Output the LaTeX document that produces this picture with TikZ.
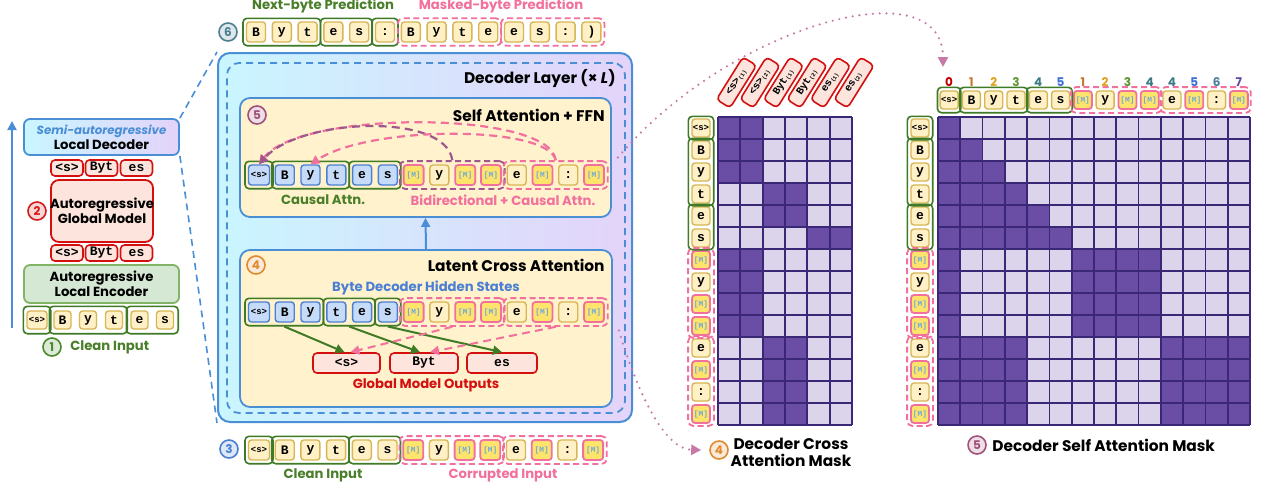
\documentclass[tikz,border=0pt]{standalone}
\usepackage{fontspec}
\usetikzlibrary{arrows.meta,fit,calc}
\newfontfamily\popp{Poppins}
\newfontfamily\monof{Liberation Mono}

\definecolor{blueB}{HTML}{4A8FD6}
\definecolor{cyanL}{HTML}{C9F6FF}
\definecolor{lavL}{HTML}{E4D3FA}
\definecolor{yelL}{HTML}{FFF2CC}
\definecolor{tanB}{HTML}{D6B656}
\definecolor{tanF}{HTML}{FFF0C6}
\definecolor{pinkB}{HTML}{F2709D}
\definecolor{yelM}{HTML}{FFE46B}
\definecolor{mtxt}{HTML}{6FA8DC}
\definecolor{tokBF}{HTML}{C6DBF8}
\definecolor{tokBB}{HTML}{4A7FD4}
\definecolor{redB}{HTML}{D40F0F}
\definecolor{redF}{HTML}{FDE4DC}
\definecolor{grnB}{HTML}{3F7A25}
\definecolor{grnT}{HTML}{4A7F2A}
\definecolor{encF}{HTML}{D5E8D4}
\definecolor{encB}{HTML}{82B366}
\definecolor{purD}{HTML}{A0578C}
\definecolor{mDark}{HTML}{6A4EA6}
\definecolor{mLight}{HTML}{DCD4EA}
\definecolor{mLine}{HTML}{3A2775}
\definecolor{dotC}{HTML}{C77AA8}
\definecolor{c1}{HTML}{4A8A2A}
\definecolor{c2}{HTML}{D41A1A}
\definecolor{c3}{HTML}{4A80D0}
\definecolor{c4}{HTML}{E08A30}
\definecolor{c5}{HTML}{A0507A}
\definecolor{c6}{HTML}{4A8090}
\definecolor{n0}{HTML}{C00000}
\definecolor{n1}{HTML}{C8782C}
\definecolor{n2}{HTML}{E0A21E}
\definecolor{n3}{HTML}{5E9632}
\definecolor{n4}{HTML}{3A7A86}
\definecolor{n5}{HTML}{3A6FD6}
\definecolor{n6}{HTML}{4A7F9A}
\definecolor{n7}{HTML}{6048A0}

\newcommand\ttlf{\popp\bfseries\fontsize{7.7}{8.6}\selectfont}
\newcommand\lblf{\popp\bfseries\fontsize{6.6}{7.4}\selectfont}
\newcommand\numf{\popp\bfseries\fontsize{6}{6}\selectfont}
\newcommand\tokf{\monof\bfseries\fontsize{6.5}{6.5}\selectfont}
\newcommand\sS{{\monof\bfseries\fontsize{4.5}{4.5}\selectfont<s>}}
\newcommand\mM{{\monof\fontsize{3.9}{3.9}\selectfont\color{mtxt}[M]}}
\newcommand\hl[2]{{\monof\bfseries\fontsize{5.2}{5.2}\selectfont #1}{\monof\fontsize{2.8}{3}\selectfont\raisebox{-0.6pt}{#2}}}

% a horizontal / vertical row of token nodes named <prefix><index>
\newcommand\tokrow[5]{%
  \foreach \txt/\sty [count=\i from 0] in {#5}{%
    \edef\tmp{\noexpand\node[\sty] (#1\i) at ({#2+#3*\i},#4)}%
    \tmp{\txt};}}
\newcommand\tokcol[5]{%
  \foreach \txt/\sty [count=\i from 0] in {#5}{%
    \edef\tmp{\noexpand\node[\sty] (#1\i) at (#2,{#3+#4*\i})}%
    \tmp{\txt};}}

\tikzset{
  tk/.style={draw=tanB, fill=tanF, line width=0.7pt, rounded corners=1.5pt,
    minimum width=9.5pt, minimum height=10pt, inner sep=0pt, font=\tokf},
  tks/.style={tk, minimum width=10.5pt},
  tkm/.style={tk, draw=pinkB, fill=yelM, line width=0.9pt, minimum width=10pt},
  tkb/.style={tk, draw=tokBB, fill=tokBF},
  tkbs/.style={tkb, minimum width=10.5pt},
  tq/.style={tk, minimum width=9pt, minimum height=9pt},
  tqm/.style={tkm, minimum width=9pt, minimum height=9pt},
  rt/.style={draw=redB, fill=redF, line width=0.8pt, rounded corners=2pt,
    inner sep=0pt, font=\tokf},
  grp/.style={draw=grnB, line width=0.8pt, rounded corners=2pt,
    inner xsep=1.4pt, inner ysep=1.5pt},
  dgrp/.style={draw=pinkB, line width=0.9pt, dash pattern=on 3pt off 1.8pt,
    rounded corners=2.5pt, inner xsep=1.4pt, inner ysep=1.5pt},
  num/.style={circle, draw=#1, fill=#1!18, text=#1, line width=0.8pt,
    minimum size=9pt, inner sep=0pt, font=\numf},
  ttl/.style={font=\ttlf, inner sep=0pt},
  lbl/.style={font=\lblf, inner sep=0pt},
  inbox/.style={draw=blueB, fill=yelL, line width=0.9pt, rounded corners=5pt},
  tip/.style={-{Triangle[length=4.5pt,width=4.5pt]}},
  arc/.style={tip, line width=1.1pt, dash pattern=on 4pt off 2.6pt},
  mgrid/.style={mLine, line width=0.9pt},
  dotline/.style={dotC, line width=1.2pt, line cap=round, dash pattern=on 0pt off 3.4pt,
    -{Triangle[length=5pt,width=5pt,line cap=butt]}},
  bdash/.style={blueB, line width=0.8pt, dash pattern=on 3.5pt off 2.5pt},
  hdr/.style={rt, rotate=58, minimum width=25pt, minimum height=8pt},
}

\begin{document}
\begin{tikzpicture}[x=0.5pt,y=-0.5pt]
\useasboundingbox[fill=white] (0,0) rectangle (1261,488);

%------------------------------------------------ left: overall model
\coordinate (upS) at (12,328);
\coordinate (upE) at (12,121);
\draw[blueB, line width=1pt, tip] (upS) -- (upE);

\node[draw=blueB, line width=0.9pt, rounded corners=3pt, left color=cyanL, right color=lavL,
  minimum width=77.5pt, minimum height=18pt] (ld) at (101.5,137) {};
\node[lbl, align=center] at (ld) {{\color{blueB}\itshape\fontsize{5.9}{7.4}\selectfont Semi-autoregressive}\\Local Decoder};

\node[rt, minimum width=16pt, minimum height=8pt] (lr0) at (67,168) {<s>};
\node[rt, minimum width=16pt, minimum height=8pt] (lr1) at (101.5,168) {Byt};
\node[rt, minimum width=16pt, minimum height=8pt] (lr2) at (136.5,168) {es};

\node[draw=redB, fill=redF, line width=0.9pt, rounded corners=4pt,
  minimum width=51pt, minimum height=31pt] (gm) at (102,211) {};
\node[lbl, align=center] at (gm) {Autoregressive\\Global Model};
\node[num=c2] (n2) at (37,211) {2};

\node[rt, minimum width=16pt, minimum height=8pt] (lq0) at (67,253) {<s>};
\node[rt, minimum width=16pt, minimum height=8pt] (lq1) at (101.5,253) {Byt};
\node[rt, minimum width=16pt, minimum height=8pt] (lq2) at (136.5,253) {es};

\node[draw=encB, fill=encF, line width=0.9pt, rounded corners=3pt,
  minimum width=77.5pt, minimum height=19pt] (le) at (101.5,284) {};
\node[lbl, align=center] at (le) {Autoregressive\\Local Encoder};

\node[tk, minimum width=10pt, minimum height=9pt] (li0) at (37,320) {\sS};
\node[tk, minimum width=8.5pt, minimum height=9pt] (li1) at (62.5,320) {B};
\node[tk, minimum width=8.5pt, minimum height=9pt] (li2) at (88,320) {y};
\node[tk, minimum width=8.5pt, minimum height=9pt] (li3) at (114,320) {t};
\node[tk, minimum width=8.5pt, minimum height=9pt] (li4) at (139.5,320) {e};
\node[tk, minimum width=8.5pt, minimum height=9pt] (li5) at (165,320) {s};
\node[grp, inner xsep=1.5pt, inner ysep=2pt, fit=(li0)] (lg1) {};
\node[grp, inner xsep=2pt, inner ysep=2pt, fit=(li1)(li3)] (lg2) {};
\node[grp, inner xsep=2pt, inner ysep=2pt, fit=(li4)(li5)] (lg3) {};
\node[num=c1] (n1) at (52,347) {1};
\node[lbl, anchor=west, text=grnT] at (70,347) {Clean Input};

%------------------------------------------------ decoder
\node[draw=blueB, line width=1pt, rounded corners=6pt, left color=cyanL, right color=lavL,
  minimum width=207pt, minimum height=184.5pt] (dec) at (425,237.5) {};
\node[draw=blueB, line width=0.9pt, dash pattern=on 3.5pt off 2.5pt, rounded corners=6pt,
  minimum width=199pt, minimum height=175pt] (layer) at (426,238) {};
\node[ttl, anchor=east] at (616,79) {Decoder Layer (× \textit{L})};

\draw[bdash] (ld.north east) -- (dec.north west);
\draw[bdash] (ld.south east) -- (dec.south west);

% self attention block
\node[inbox, minimum width=185.5pt, minimum height=59.5pt] (sa) at (425.5,157.5) {};
\node[num=c5] (n5) at (257,115) {5};
\node[ttl, anchor=east] at (605,115) {Self Attention + FFN};
\tokrow{sa}{259}{25.77}{175}{\sS/tkbs,B/tkb,y/tkb,t/tkb,e/tkb,s/tkb,\mM/tkm,y/tk,\mM/tkm,\mM/tkm,e/tk,\mM/tkm,:/tk,\mM/tkm}
\node[grp, fit=(sa0)] (sag1) {};
\node[grp, fit=(sa1)(sa3)] (sag2) {};
\node[grp, fit=(sa4)(sa5)] (sag3) {};
\node[dgrp, draw=purD, fit=(sa6)(sa9)] (sad1) {};
\node[dgrp, fit=(sa10)(sa13)] (sad2) {};
\node[lbl, text=grnT] at (323,200) {Causal Attn.};
\node[lbl, text=pinkB] at (503,200) {Bidirectional + Causal Attn.};
\draw[arc, pinkB] (sad2.north) .. controls (550,110) and (300,110) .. (sa0.north);
\draw[arc, purD] (sad1.north) .. controls (446,112) and (300,118) .. (sa0.north);
\draw[arc, pinkB] (sad2.north) .. controls (548,125) and (370,125) .. (sa2.north);

% latent cross attention block
\node[inbox, minimum width=186pt, minimum height=78.5pt] (lca) at (426,328.5) {};
\node[num=c4] (n4a) at (256,265) {4};
\node[ttl, anchor=east] at (605,265) {Latent Cross Attention};
\node[lbl, text=tokBB] at (426,288) {Byte Decoder Hidden States};
\tokrow{ca}{259}{25.77}{312}{\sS/tkbs,B/tkb,y/tkb,t/tkb,e/tkb,s/tkb,\mM/tkm,y/tk,\mM/tkm,\mM/tkm,e/tk,\mM/tkm,:/tk,\mM/tkm}
\node[grp, fit=(ca0)(ca2)] (cag1) {};
\node[grp, fit=(ca3)(ca4)] (cag2) {};
\node[grp, fit=(ca5)] (cag3) {};
\node[dgrp, fit=(ca6)(ca9)] (cad1) {};
\node[dgrp, fit=(ca10)(ca13)] (cad2) {};
\node[rt, minimum width=33.5pt, minimum height=10pt] (go0) at (346.5,363) {<s>};
\node[rt, minimum width=34pt, minimum height=10pt] (go1) at (424,363) {Byt};
\node[rt, minimum width=35pt, minimum height=10pt] (go2) at (502,363) {es};
\node[lbl, text=redB] at (426,385) {Global Model Outputs};
\draw[grnB, line width=1pt, tip] (cag1.south) -- ([xshift=-1pt]go0.north);
\draw[grnB, line width=1pt, tip] (cag2.south) -- ([xshift=-2pt]go1.north);
\draw[grnB, line width=1pt, tip] (cag3.south) -- (go2.north);
\draw[pinkB, line width=1pt, tip, dash pattern=on 4pt off 2.6pt] (cad1.south) -- ([xshift=2pt]go0.north);
\draw[pinkB, line width=1pt, tip, dash pattern=on 4pt off 2.6pt] (cad2.south) -- ([xshift=3pt]go1.north);

\draw[blueB, line width=1pt, tip] (lca.north) -- (sa.south);

% output row (6)
\node[num=c6] (n6) at (228,32) {6};
\tokrow{p}{256}{25.8}{32}{B/tk,y/tk,t/tk,e/tk,s/tk,:/tk,B/tk,y/tk,t/tk,e/tk,e/tk,s/tk,:/tk,)/tk}
\node[grp, fit=(p0)(p2)] (pg1) {};
\node[grp, fit=(p3)(p4)] (pg2) {};
\node[grp, fit=(p5)] (pg3) {};
\node[dgrp, fit=(p6)(p9)] (pd1) {};
\node[dgrp, fit=(p10)(p13)] (pd2) {};
\node[lbl, text=grnT] at (323,6) {Next-byte Prediction};
\node[lbl, text=pinkB] at (501,6) {Masked-byte Prediction};

% input row (3)
\node[num=c3] (n3) at (229,449) {3};
\tokrow{c}{259}{25.7}{450}{\sS/tks,B/tk,y/tk,t/tk,e/tk,s/tk,\mM/tkm,y/tk,\mM/tkm,\mM/tkm,e/tk,\mM/tkm,:/tk,\mM/tkm}
\node[grp, fit=(c0)] (cg1) {};
\node[grp, fit=(c1)(c3)] (cg2) {};
\node[grp, fit=(c4)(c5)] (cg3) {};
\node[dgrp, fit=(c6)(c9)] (cd1) {};
\node[dgrp, fit=(c10)(c13)] (cd2) {};
\node[lbl, text=grnT] at (323,475) {Clean Input};
\node[lbl, text=pinkB] at (503,475) {Corrupted Input};

%------------------------------------------------ decoder cross attention mask
\fill[mLight] (718,117) rectangle (852,425);
\foreach \ca/\cb/\ra/\rb in {0/2/0/3, 2/4/3/5, 4/6/5/6, 0/2/6/10, 2/4/10/14}
  \fill[mDark] ({718+22.333*\ca},{117+22*\ra}) rectangle ({718+22.333*\cb},{117+22*\rb});
\foreach \k in {0,...,6} \draw[mgrid] ({718+22.333*\k},117) -- ({718+22.333*\k},425);
\foreach \k in {0,...,14} \draw[mgrid] (718,{117+22*\k}) -- (852,{117+22*\k});

\foreach \lab [count=\k from 0] in {\hl{<s>}{(1)},\hl{<s>}{(2)},\hl{Byt}{(1)},\hl{Byt}{(2)},\hl{es}{(1)},\hl{es}{(2)}}
  \node[hdr] (x\k) at ({736.5+23.5*\k},82.5) {\lab};

\tokcol{r}{701}{128}{22}{\sS/tq,B/tq,y/tq,t/tq,e/tq,s/tq,\mM/tqm,y/tq,\mM/tqm,\mM/tqm,e/tq,\mM/tqm,:/tq,\mM/tqm}
\node[grp, inner xsep=1.5pt, inner ysep=1pt, fit=(r0)] (rg1) {};
\node[grp, inner xsep=1.5pt, inner ysep=1pt, fit=(r1)(r3)] (rg2) {};
\node[grp, inner xsep=1.5pt, inner ysep=1pt, fit=(r4)(r5)] (rg3) {};
\node[dgrp, inner xsep=1.5pt, inner ysep=1pt, fit=(r6)(r9)] (rd1) {};
\node[dgrp, inner xsep=1.5pt, inner ysep=1pt, fit=(r10)(r13)] (rd2) {};

\node[num=c4] (n4) at (719,450) {4};
\node[ttl, align=center] at (791,452) {Decoder Cross\\Attention Mask};

%------------------------------------------------ decoder self attention mask
\fill[mLight] (938,117) rectangle (1250,425);
\foreach \r in {0,...,5}
  \fill[mDark] (938,{117+22*\r}) rectangle ({938+22.286*(\r+1)},{117+22*(\r+1)});
\foreach \ca/\cb/\ra/\rb in {0/1/6/10, 6/10/6/10, 0/4/10/14, 10/14/10/14}
  \fill[mDark] ({938+22.286*\ca},{117+22*\ra}) rectangle ({938+22.286*\cb},{117+22*\rb});
\foreach \k in {0,...,14} \draw[mgrid] ({938+22.286*\k},117) -- ({938+22.286*\k},425);
\foreach \k in {0,...,14} \draw[mgrid] (938,{117+22*\k}) -- (1250,{117+22*\k});

\foreach \n/\col [count=\k from 0] in {0/n0,1/n1,2/n2,3/n3,4/n4,5/n5,1/n1,2/n2,3/n3,4/n4,4/n4,5/n5,6/n6,7/n7}
  \node[font=\numf, inner sep=0pt, text=\col] at ({949.14+22.286*\k},82) {\n};

\tokrow{h}{949.14}{22.286}{100}{\sS/tq,B/tq,y/tq,t/tq,e/tq,s/tq,\mM/tqm,y/tq,\mM/tqm,\mM/tqm,e/tq,\mM/tqm,:/tq,\mM/tqm}
\node[grp, inner xsep=1pt, inner ysep=1.5pt, fit=(h0)] (hg1) {};
\node[grp, inner xsep=1pt, inner ysep=1.5pt, fit=(h1)(h3)] (hg2) {};
\node[grp, inner xsep=1pt, inner ysep=1.5pt, fit=(h4)(h5)] (hg3) {};
\node[dgrp, inner xsep=1pt, inner ysep=1.5pt, fit=(h6)(h9)] (hd1) {};
\node[dgrp, inner xsep=1pt, inner ysep=1.5pt, fit=(h10)(h13)] (hd2) {};

\tokcol{s}{920}{128}{22}{\sS/tq,B/tq,y/tq,t/tq,e/tq,s/tq,\mM/tqm,y/tq,\mM/tqm,\mM/tqm,e/tq,\mM/tqm,:/tq,\mM/tqm}
\node[grp, inner xsep=1.5pt, inner ysep=1pt, fit=(s0)] (sg1) {};
\node[grp, inner xsep=1.5pt, inner ysep=1pt, fit=(s1)(s3)] (sg2) {};
\node[grp, inner xsep=1.5pt, inner ysep=1pt, fit=(s4)(s5)] (sg3) {};
\node[dgrp, inner xsep=1.5pt, inner ysep=1pt, fit=(s6)(s9)] (sd1) {};
\node[dgrp, inner xsep=1.5pt, inner ysep=1pt, fit=(s10)(s13)] (sd2) {};

\node[num=c5] (n5b) at (977,445) {5};
\node[ttl, anchor=west] at (992,445) {Decoder Self Attention Mask};

%------------------------------------------------ dotted links to the masks
\coordinate (selfEnd) at (943,67);
\draw[dotline] ([xshift=3pt]sa.east) .. controls (727,27) and (943,-35) .. (selfEnd);
\draw[dotline] ([xshift=3pt,yshift=-1pt]lca.east) .. controls (632,375) and (660,449) .. ([xshift=-4pt]n4.west);
\end{tikzpicture}
\end{document}
